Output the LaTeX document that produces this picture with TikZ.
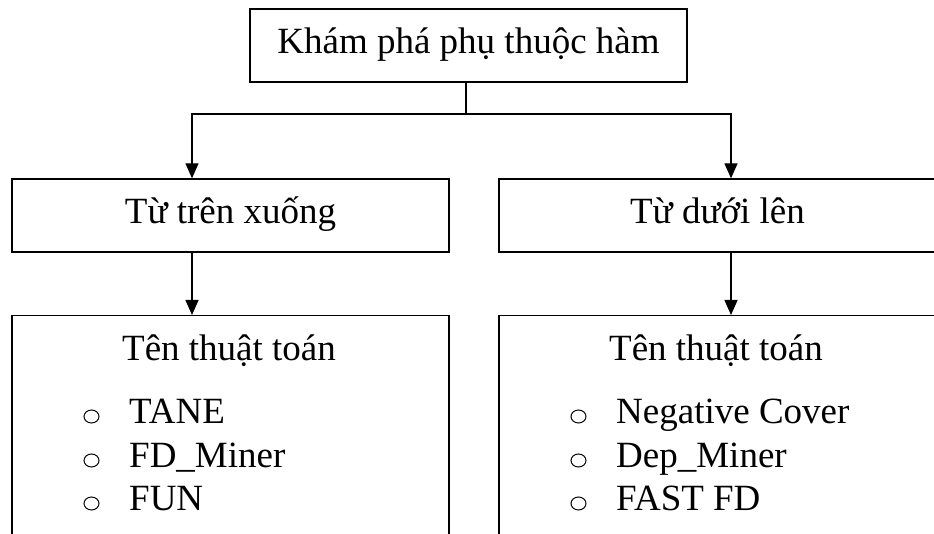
\documentclass[tikz,border=0pt]{standalone}
\usepackage{fontspec}
\setmainfont{Liberation Serif}
\usetikzlibrary{arrows.meta,shapes.geometric}
\begin{document}
\begin{tikzpicture}[x=1pt,y=-1pt,
  every node/.style={font=\fontsize{37}{44}\selectfont},
  box/.style={draw, line width=1.3pt, inner sep=0pt, minimum width=437pt,
    minimum height=73pt, text height=24pt, text depth=7pt, align=center},
  openbox/.style={draw, line width=1.3pt, inner sep=0pt, minimum width=437pt,
    minimum height=260pt, anchor=north},
  conn/.style={line width=1.3pt},
  arr/.style={conn, -{Triangle[length=15pt,width=13pt]}},
  head/.style={anchor=base, inner sep=0pt},
  entry/.style={anchor=base west, inner sep=0pt},
  bullet/.style={ellipse, draw, line width=1pt, inner sep=0pt,
    minimum width=15pt, minimum height=13pt},
]
\useasboundingbox (0,0) rectangle (934,534);
\clip (0,0) rectangle (934,534);

% boxes
\node[box] (top) at (468.5,45.5) {Khám phá phụ thuộc hàm};
\node[box] (topdown) at (230.5,215.5) {Từ trên xuống};
\node[box] (bottomup) at (717.5,215.5) {Từ dưới lên};
\node[openbox] (algl) at (230.5,315) {};
\node[openbox] (algr) at (717.5,315) {};

% algorithm lists
\node[head] (headl) at (229,360) {Tên thuật toán};
\node[bullet] (bl1) at (91.5,416.5) {};
\node[bullet] (bl2) at (91.5,460.5) {};
\node[bullet] (bl3) at (91.5,503.5) {};
\node[entry] (il1) at (129,423) {TANE};
\node[entry] (il2) at (129,467) {FD\_Miner};
\node[entry] (il3) at (129,510) {FUN};

\node[head] (headr) at (716,360) {Tên thuật toán};
\node[bullet] (br1) at (578.5,416.5) {};
\node[bullet] (br2) at (578.5,460.5) {};
\node[bullet] (br3) at (578.5,503.5) {};
\node[entry] (ir1) at (616,423) {Negative Cover};
\node[entry] (ir2) at (616,467) {Dep\_Miner};
\node[entry] (ir3) at (616,510) {FAST FD};

% connectors
\coordinate (jm) at (466,114);
\coordinate (jl) at (192,114);
\coordinate (jr) at (731,114);
\draw[arr] (jm |- top.south) -- (jm) -| (jl |- topdown.north);
\draw[arr] (jm) -| (jr |- bottomup.north);
\draw[arr] (jl |- topdown.south) -- (jl |- algl.north);
\draw[arr] (jr |- bottomup.south) -- (jr |- algr.north);
\end{tikzpicture}
\end{document}
